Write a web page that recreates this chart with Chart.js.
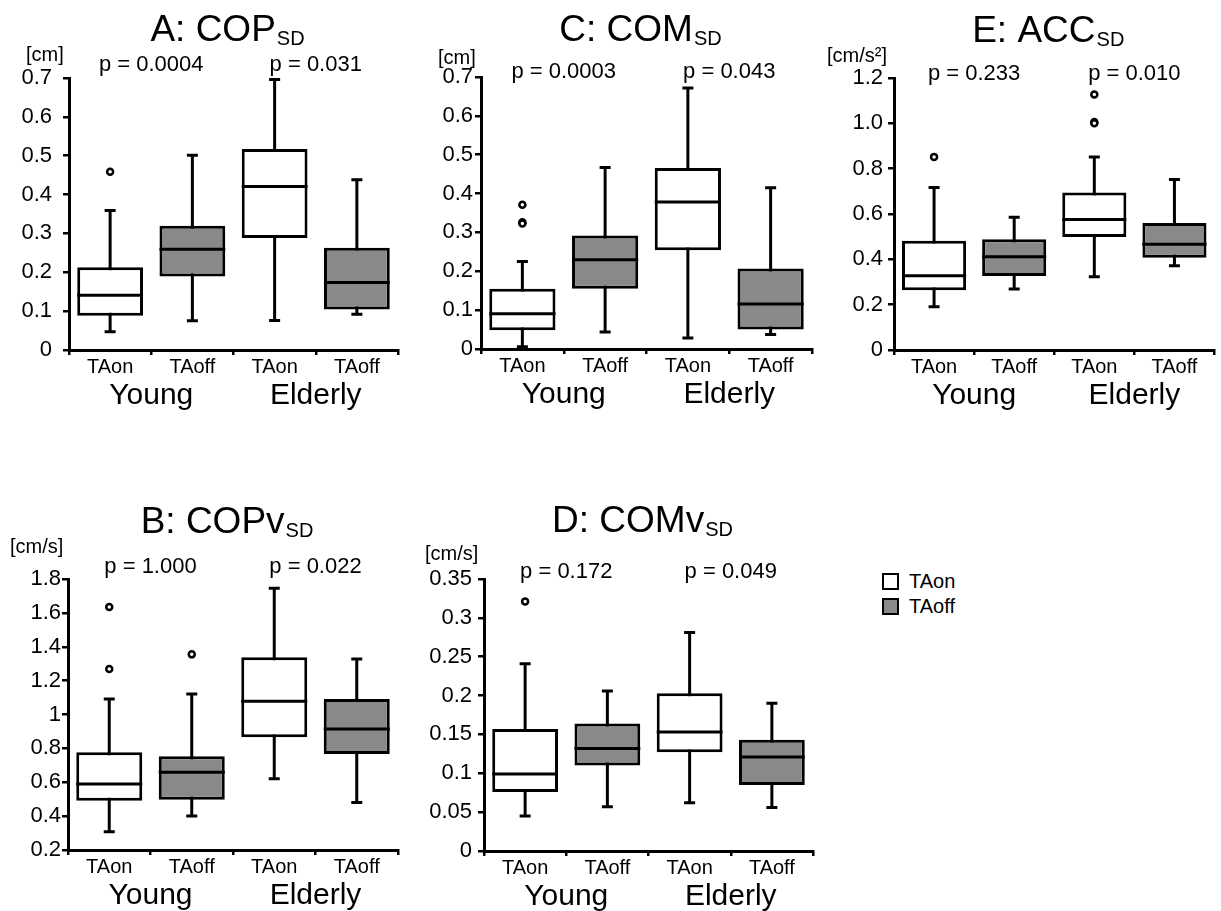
<!DOCTYPE html>
<html>
<head>
<meta charset="utf-8">
<title>Box plots</title>
<script src="https://cdn.jsdelivr.net/npm/chart.js@4.4.0/dist/chart.umd.min.js"></script>
<style>
  body { margin: 0; background: #fff; }
  #page { position: relative; width: 1221px; height: 911px; overflow: hidden;
          font-family: "Liberation Sans", Arial, Helvetica, sans-serif; }
  #page canvas { position: absolute; }
  .legend { position: absolute; left: 882px; top: 569px; font-size: 20px; color: #000; }
  .legend div { display: flex; align-items: center; height: 25px; }
  .legend span { display: inline-block; width: 13px; height: 13px; border: 2.5px solid #000; margin-right: 10px; }
</style>
</head>
<body>
<div id="page">
  <canvas id="chartA" width="410" height="420" style="left:0;top:0"></canvas>
  <canvas id="chartC" width="410" height="420" style="left:410px;top:0"></canvas>
  <canvas id="chartE" width="401" height="420" style="left:820px;top:0"></canvas>
  <canvas id="chartB" width="410" height="441" style="left:0;top:470px"></canvas>
  <canvas id="chartD" width="410" height="441" style="left:410px;top:470px"></canvas>
  <div class="legend">
    <div><span style="background:#fff"></span>TAon</div>
    <div><span style="background:#898989"></span>TAoff</div>
  </div>
</div>
<script>
const FONT = '"Liberation Sans", Arial, Helvetica, sans-serif';

const categories = ['TAon', 'TAoff', 'TAon', 'TAoff'];
const groups = ['Young', 'Elderly'];
const boxColors = ['#ffffff', '#898989', '#ffffff', '#898989'];

// A: COP SD [cm]
const copTicks = ['0', '0.1', '0.2', '0.3', '0.4', '0.5', '0.6', '0.7'];
const copLow = [0.047, 0.075, 0.076, 0.092];
const copQ1 = [0.088, 0.189, 0.288, 0.104];
const copMed = [0.141, 0.259, 0.421, 0.174];
const copQ3 = [0.213, 0.320, 0.517, 0.263];
const copHigh = [0.359, 0.501, 0.696, 0.438];
const copOut = [[0.459], [], [], []];
const copP = ['p = 0.0004', 'p = 0.031'];

// C: COM SD [cm]
const comTicks = ['0', '0.1', '0.2', '0.3', '0.4', '0.5', '0.6', '0.7'];
const comLow = [0.006, 0.044, 0.028, 0.037];
const comQ1 = [0.048, 0.155, 0.254, 0.050];
const comMed = [0.091, 0.230, 0.378, 0.116];
const comQ3 = [0.155, 0.292, 0.466, 0.207];
const comHigh = [0.225, 0.467, 0.672, 0.415];
const comOut = [[0.323, 0.326, 0.371], [], [], []];
const comP = ['p = 0.0003', 'p = 0.043'];

// E: ACC SD [cm/s2]
const accTicks = ['0', '0.2', '0.4', '0.6', '0.8', '1.0', '1.2'];
const accLow = [0.191, 0.269, 0.323, 0.372];
const accQ1 = [0.264, 0.326, 0.499, 0.407];
const accMed = [0.328, 0.411, 0.576, 0.466];
const accQ3 = [0.482, 0.489, 0.695, 0.560];
const accHigh = [0.717, 0.586, 0.852, 0.752];
const accOut = [[0.852], [], [1.000, 1.006, 1.127], []];
const accP = ['p = 0.233', 'p = 0.010'];

// B: COPv SD [cm/s]
const copvTicks = ['0.2', '0.4', '0.6', '0.8', '1', '1.2', '1.4', '1.6', '1.8'];
const copvLow = [0.308, 0.401, 0.621, 0.481];
const copvQ1 = [0.491, 0.497, 0.865, 0.767];
const copvMed = [0.590, 0.659, 1.078, 0.914];
const copvQ3 = [0.777, 0.753, 1.338, 1.092];
const copvHigh = [1.092, 1.121, 1.745, 1.328];
const copvOut = [[1.269, 1.635], [1.355], [], []];
const copvP = ['p = 1.000', 'p = 0.022'];

// D: COMv SD [cm/s]
const comvTicks = ['0', '0.05', '0.1', '0.15', '0.2', '0.25', '0.3', '0.35'];
const comvLow = [0.045, 0.057, 0.062, 0.056];
const comvQ1 = [0.076, 0.110, 0.127, 0.085];
const comvMed = [0.099, 0.132, 0.153, 0.121];
const comvQ3 = [0.157, 0.164, 0.203, 0.143];
const comvHigh = [0.241, 0.206, 0.281, 0.190];
const comvOut = [[0.321], [], [], []];
const comvP = ['p = 0.172', 'p = 0.049'];

// draws whiskers, caps, medians and the panel texts through the chart scales
function boxParts(d, L) {
  return {
    id: 'boxParts',
    beforeDatasetsDraw(chart) {
      const ctx = chart.ctx, y = chart.scales.y;
      const bars = chart.getDatasetMeta(0).data;
      ctx.save();
      ctx.strokeStyle = '#000';
      ctx.lineWidth = 3;
      bars.forEach((bar, i) => {
        const yl = y.getPixelForValue(d.low[i]);
        const yh = y.getPixelForValue(d.high[i]);
        ctx.beginPath();
        ctx.moveTo(bar.x, yl); ctx.lineTo(bar.x, yh);
        ctx.moveTo(bar.x - 5.5, yl); ctx.lineTo(bar.x + 5.5, yl);
        ctx.moveTo(bar.x - 5.5, yh); ctx.lineTo(bar.x + 5.5, yh);
        ctx.stroke();
      });
      ctx.restore();
    },
    afterDatasetsDraw(chart) {
      const ctx = chart.ctx, y = chart.scales.y;
      const bars = chart.getDatasetMeta(0).data;
      ctx.save();
      ctx.strokeStyle = '#000';
      ctx.lineWidth = 3;
      bars.forEach((bar, i) => {
        const ym = y.getPixelForValue(d.med[i]);
        ctx.beginPath();
        ctx.moveTo(bar.x - bar.width / 2, ym);
        ctx.lineTo(bar.x + bar.width / 2, ym);
        ctx.stroke();
      });
      ctx.restore();
    },
    afterDraw(chart) {
      const ctx = chart.ctx, x = chart.scales.x, area = chart.chartArea;
      ctx.save();
      ctx.fillStyle = '#000';
      ctx.textBaseline = 'alphabetic';

      // title with subscript
      ctx.font = '37px ' + FONT;
      const wMain = ctx.measureText(d.title).width;
      ctx.font = '20px ' + FONT;
      const wSub = ctx.measureText('SD').width;
      const x0 = (area.left + area.right) / 2 - 6 - (wMain + wSub + 1) / 2;
      ctx.textAlign = 'left';
      ctx.font = '37px ' + FONT;
      ctx.fillText(d.title, x0, L.titleY);
      ctx.font = '20px ' + FONT;
      ctx.fillText('SD', x0 + wMain + 1, L.titleY + 4);

      // unit
      ctx.font = '20px ' + FONT;
      ctx.fillText(d.unit, L.unitX, L.unitY);

      // p values and group names, centred on each pair of boxes
      ctx.textAlign = 'center';
      groups.forEach((g, k) => {
        const cx = (x.getPixelForValue(2 * k) + x.getPixelForValue(2 * k + 1)) / 2;
        ctx.font = '22px ' + FONT;
        ctx.fillText(d.p[k], cx, L.pY);
        ctx.font = '30px ' + FONT;
        ctx.fillText(g, cx, area.bottom + 54);
      });
      ctx.restore();
    }
  };
}

function makePanel(id, d, L) {
  const canvas = document.getElementById(id);
  const tickValues = d.ticks.map(Number);
  const datasets = [{
    type: 'bar',
    data: d.q1.map((q, i) => [q, d.q3[i]]),
    backgroundColor: boxColors,
    borderColor: '#000',
    borderWidth: 3,
    borderSkipped: false,
    barPercentage: 0.8,
    categoryPercentage: 1,
    order: 2
  }];
  const nOut = Math.max(...d.out.map(o => o.length));
  for (let k = 0; k < nOut; k++) {
    datasets.push({
      type: 'line',
      data: d.out.map(o => (o[k] === undefined ? null : o[k])),
      showLine: false,
      pointRadius: 3,
      pointBorderWidth: 2.5,
      pointBackgroundColor: '#fff',
      pointBorderColor: '#000',
      order: 1
    });
  }

  new Chart(canvas, {
    type: 'bar',
    data: { labels: categories, datasets: datasets },
    options: {
      responsive: false,
      animation: false,
      events: [],
      layout: {
        padding: { top: L.top, right: canvas.width - L.right, bottom: 0, left: 0 }
      },
      plugins: {
        legend: { display: false },
        tooltip: { enabled: false }
      },
      scales: {
        x: {
          type: 'category',
          offset: true,
          grid: { offset: true, drawOnChartArea: false, tickLength: 5, color: '#000', lineWidth: 2.5 },
          border: { color: '#000', width: 3 },
          ticks: {
            color: '#000',
            font: { size: 20, family: FONT },
            padding: 0,
            maxRotation: 0,
            autoSkip: false
          },
          afterFit: s => { s.height = canvas.height - L.bottom; }
        },
        y: {
          min: tickValues[0],
          max: tickValues[tickValues.length - 1],
          afterBuildTicks: s => { s.ticks = tickValues.map(v => ({ value: v })); },
          grid: { drawOnChartArea: false, tickLength: 6, color: '#000', lineWidth: 2.5 },
          border: { color: '#000', width: 3 },
          ticks: {
            color: '#000',
            font: { size: 22, family: FONT },
            padding: L.tickPad,
            callback: (v, i) => d.ticks[i]
          },
          afterFit: s => { s.width = L.left; }
        }
      }
    },
    plugins: [boxParts(d, L)]
  });
}

makePanel('chartA',
  { title: 'A: COP', unit: '[cm]', ticks: copTicks, low: copLow, q1: copQ1, med: copMed, q3: copQ3, high: copHigh, out: copOut, p: copP },
  { left: 69, top: 78, right: 398, bottom: 350, titleY: 41, unitX: 26, unitY: 61, pY: 71, tickPad: 11 });

makePanel('chartC',
  { title: 'C: COM', unit: '[cm]', ticks: comTicks, low: comLow, q1: comQ1, med: comMed, q3: comQ3, high: comHigh, out: comOut, p: comP },
  { left: 71, top: 77, right: 402, bottom: 349, titleY: 41, unitX: 28, unitY: 64, pY: 78, tickPad: 2 });

makePanel('chartE',
  { title: 'E: ACC', unit: '[cm/s²]', ticks: accTicks, low: accLow, q1: accQ1, med: accMed, q3: accQ3, high: accHigh, out: accOut, p: accP },
  { left: 74, top: 78, right: 400, bottom: 350, titleY: 42, unitX: 7, unitY: 62, pY: 80, tickPad: 5 });

makePanel('chartB',
  { title: 'B: COPv', unit: '[cm/s]', ticks: copvTicks, low: copvLow, q1: copvQ1, med: copvMed, q3: copvQ3, high: copvHigh, out: copvOut, p: copvP },
  { left: 68, top: 109, right: 398, bottom: 380, titleY: 63, unitX: 10, unitY: 83, pY: 103, tickPad: 1 });

makePanel('chartD',
  { title: 'D: COMv', unit: '[cm/s]', ticks: comvTicks, low: comvLow, q1: comvQ1, med: comvMed, q3: comvQ3, high: comvHigh, out: comvOut, p: comvP },
  { left: 74, top: 109, right: 403, bottom: 381, titleY: 62, unitX: 15, unitY: 90, pY: 108, tickPad: 6 });
</script>
</body>
</html>
